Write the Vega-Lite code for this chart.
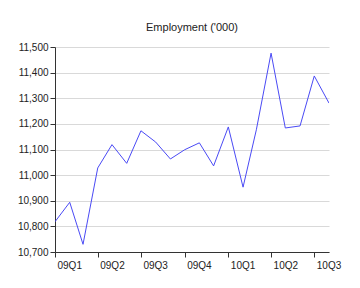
{
  "$schema": "https://vega.github.io/schema/vega-lite/v6.json",
  "autosize": {"type": "none"},
  "padding": {"left": 55, "top": 47, "right": 30, "bottom": 36},
  "width": 274,
  "height": 205,
  "background": "white",
  "title": {"text": "Employment ('000)", "fontSize": 11, "fontWeight": "normal", "font": "Liberation Sans", "color": "#222222", "offset": 9},
  "config": {"view": {"stroke": null}, "font": "Liberation Sans"},
  "data": {"values": [
    {"date": "2009-01-01", "value": 10818},
    {"date": "2009-02-01", "value": 10894},
    {"date": "2009-03-01", "value": 10730},
    {"date": "2009-04-01", "value": 11028},
    {"date": "2009-05-01", "value": 11119},
    {"date": "2009-06-01", "value": 11046},
    {"date": "2009-07-01", "value": 11173},
    {"date": "2009-08-01", "value": 11129},
    {"date": "2009-09-01", "value": 11063},
    {"date": "2009-10-01", "value": 11099},
    {"date": "2009-11-01", "value": 11126},
    {"date": "2009-12-01", "value": 11036},
    {"date": "2010-01-01", "value": 11188},
    {"date": "2010-02-01", "value": 10953},
    {"date": "2010-03-01", "value": 11177},
    {"date": "2010-04-01", "value": 11476},
    {"date": "2010-05-01", "value": 11184},
    {"date": "2010-06-01", "value": 11192},
    {"date": "2010-07-01", "value": 11387},
    {"date": "2010-08-01", "value": 11281}
  ]},
  "mark": {"type": "line", "color": "#4a4af5", "strokeWidth": 1, "clip": true},
  "encoding": {
    "x": {
      "field": "date", "type": "temporal",
      "scale": {"type": "utc", "nice": false},
      "axis": {
        "title": null, "grid": false,
        "labelExpr": "substring(toString(utcyear(datum.value)), 2) + 'Q' + toString(utcquarter(datum.value))",
        "values": [
          {"year": 2009, "month": 1, "date": 1, "utc": true},
          {"year": 2009, "month": 4, "date": 1, "utc": true},
          {"year": 2009, "month": 7, "date": 1, "utc": true},
          {"year": 2009, "month": 10, "date": 1, "utc": true},
          {"year": 2010, "month": 1, "date": 1, "utc": true},
          {"year": 2010, "month": 4, "date": 1, "utc": true},
          {"year": 2010, "month": 7, "date": 1, "utc": true}
        ],
        "labelAlign": "left", "labelFontSize": 10, "labelColor": "#222222",
        "labelPadding": 3, "labelOffset": 2,
        "domainColor": "#333333", "tickColor": "#333333", "tickSize": 5,
        "labelFlush": false, "labelOverlap": false
      }
    },
    "y": {
      "field": "value", "type": "quantitative",
      "scale": {"domain": [10700, 11500], "nice": false, "zero": false},
      "axis": {
        "title": null,
        "labelExpr": "toString(floor(datum.value / 1000)) + ',' + substring(toString(datum.value), 2)",
        "values": [10700, 10800, 10900, 11000, 11100, 11200, 11300, 11400, 11500],
        "labelFontSize": 10, "labelColor": "#222222", "labelPadding": 2,
        "domainColor": "#333333", "tickColor": "#333333", "tickSize": 5,
        "gridColor": "#d9d9d9", "gridWidth": 1
      }
    }
  }
}
